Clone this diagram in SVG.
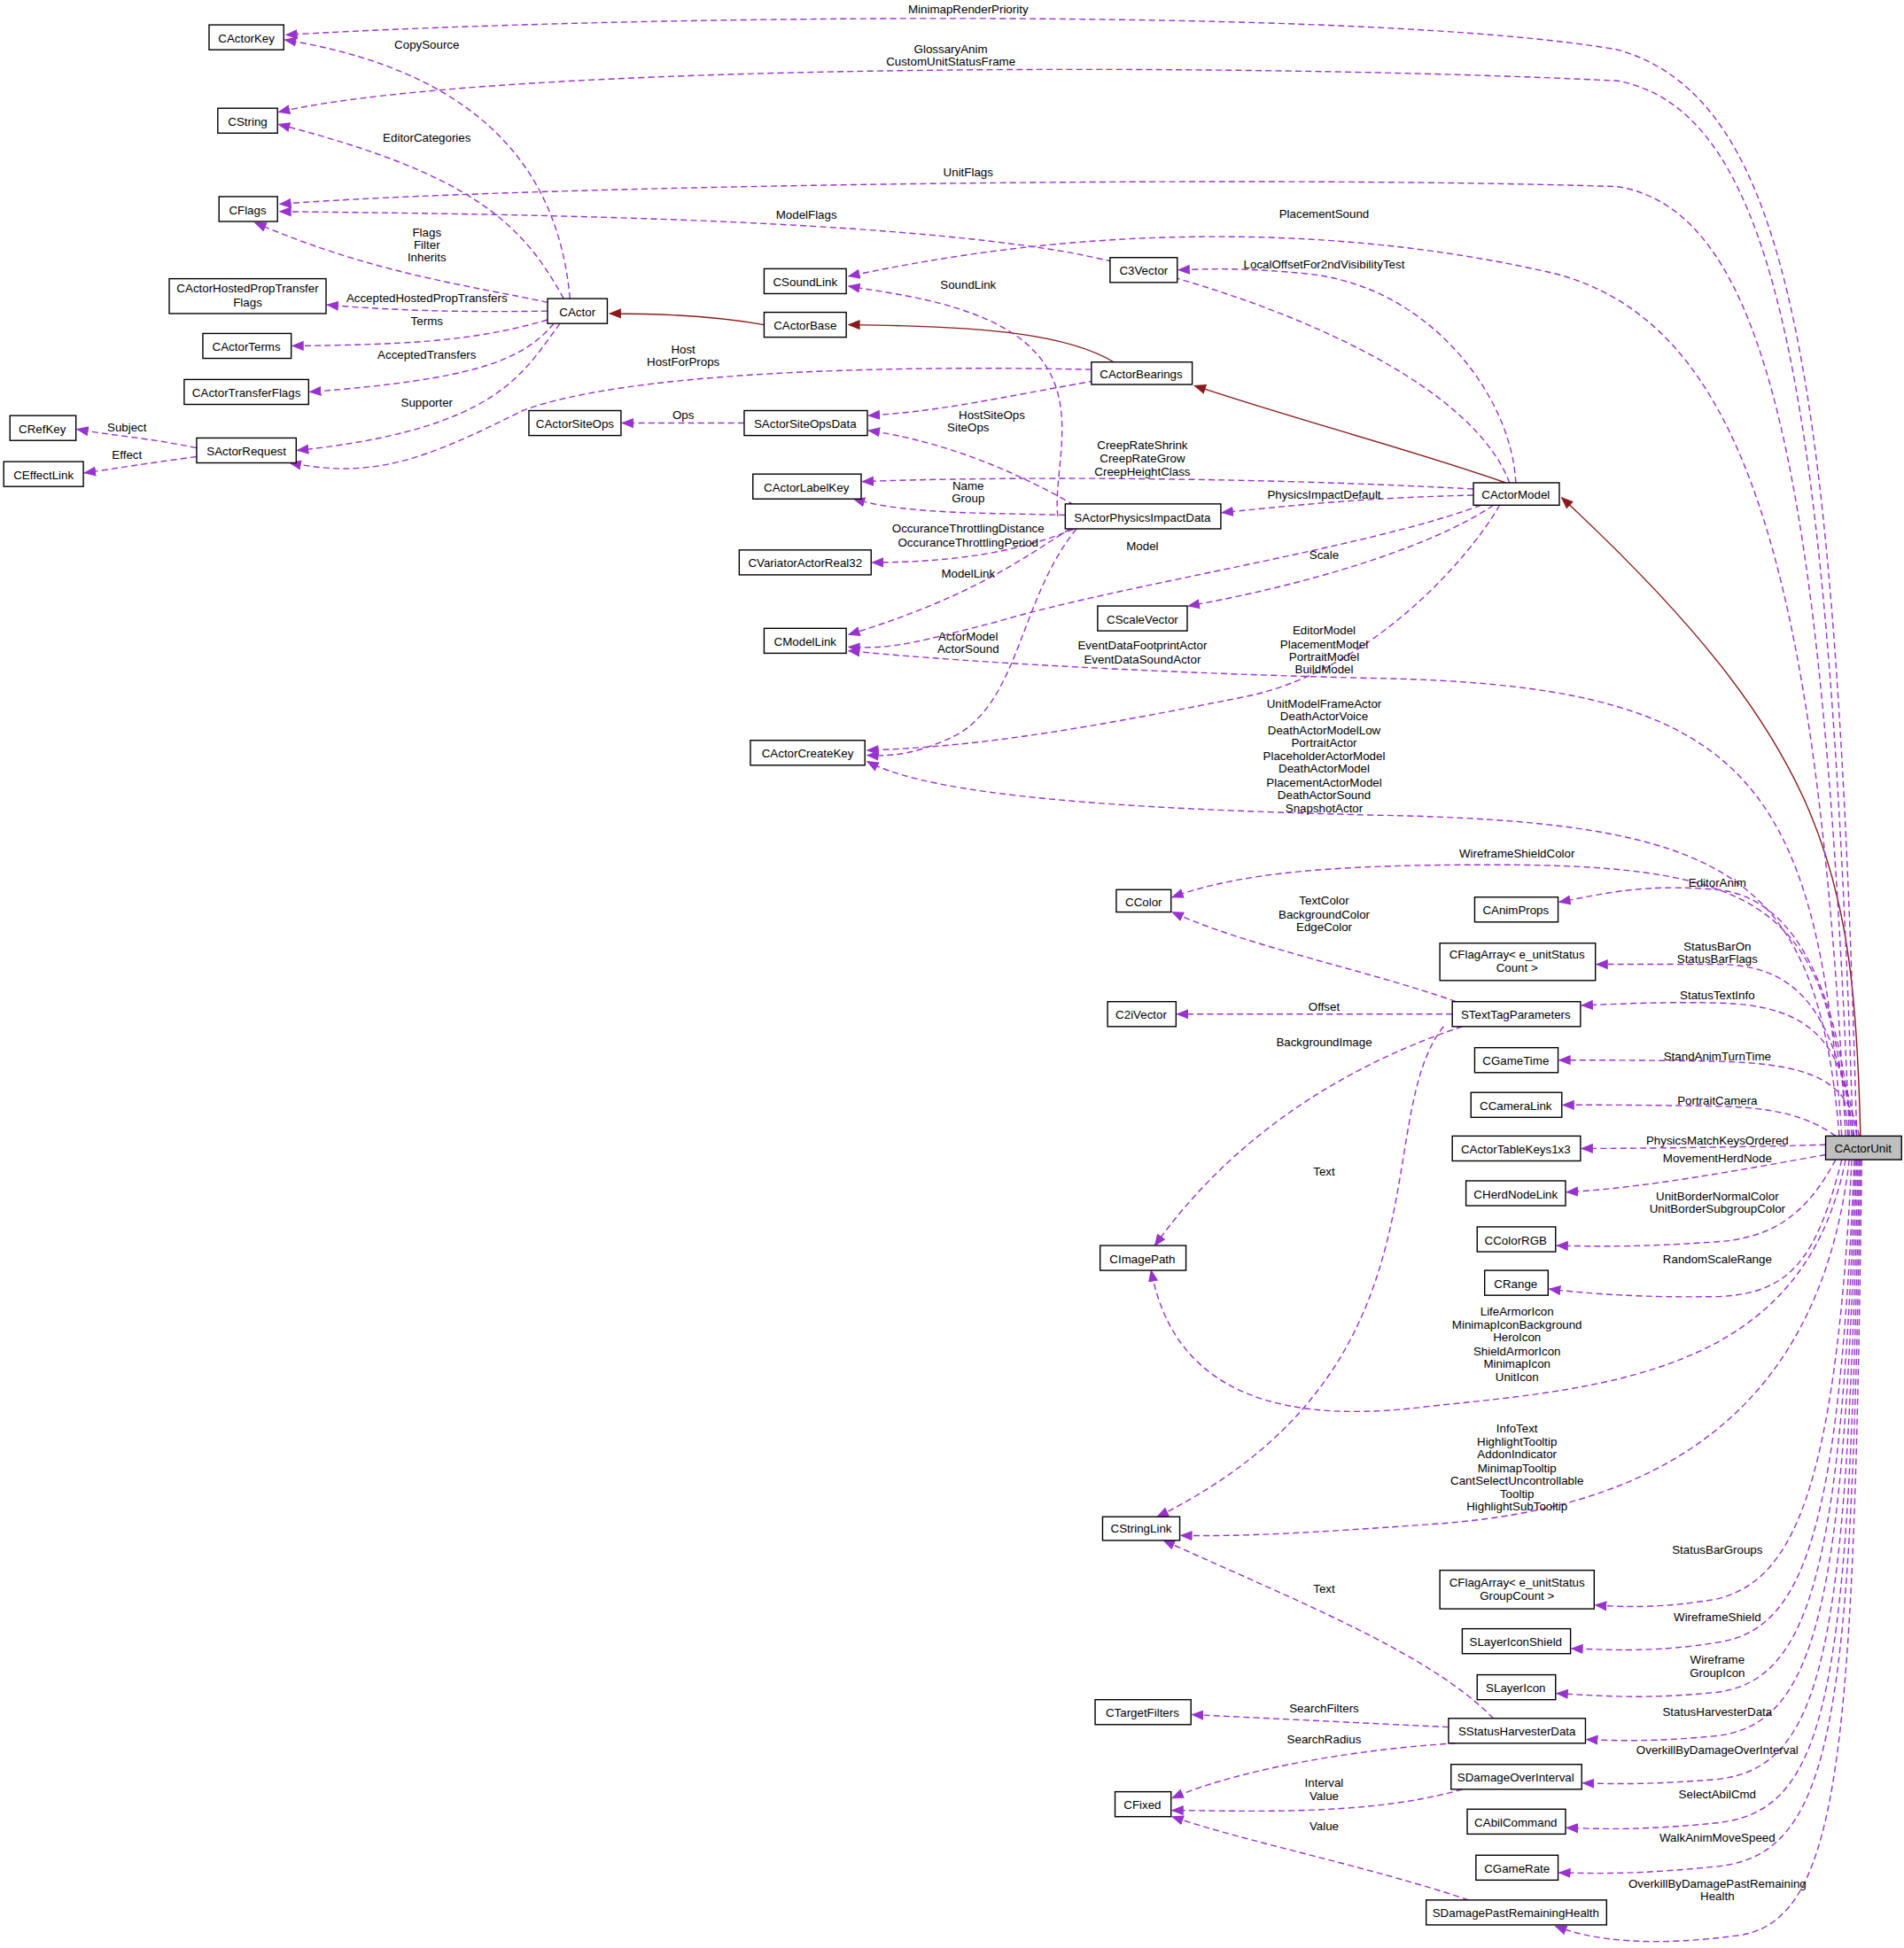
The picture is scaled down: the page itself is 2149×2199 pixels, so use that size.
<svg xmlns="http://www.w3.org/2000/svg" width="2149" height="2199" viewBox="0 0 2149 2199">
<defs>
<marker id="a" viewBox="0 0 10 10" refX="9" refY="5" markerWidth="10" markerHeight="10" markerUnits="userSpaceOnUse" orient="auto"><path d="M0,1 L10,5 L0,9 z" fill="#9a32cd"/></marker>
<marker id="r" viewBox="0 0 10 10" refX="9" refY="5" markerWidth="10" markerHeight="10" markerUnits="userSpaceOnUse" orient="auto"><path d="M0,1 L10,5 L0,9 z" fill="#8b1a1a"/></marker>
<style>
text{font-family:"Liberation Sans",Arial,sans-serif;font-size:9.5px;fill:#000;text-anchor:middle}
.n rect{fill:#fff;stroke:#000;stroke-width:1}
#CActorUnit rect{fill:#bfbfbf}
.e path{fill:none;stroke:#9a32cd;stroke-width:1;stroke-dasharray:5,3;marker-end:url(#a)}
.e path.i{stroke:#8b1a1a;stroke-dasharray:none;marker-end:url(#r)}
</style>
</defs>
<rect width="2149" height="2199" fill="#fff"/>
<g transform="scale(1.4046)">
<g class="e" id="edges">
<path class="i" d="M1495,913 C1490,700 1470,600 1255,400"/>
<path class="i" d="M1210,388 C1130,360 1050,340 960,310"/>
<path class="i" d="M895,291 C860,270 800,262 682,261"/>
<path class="i" d="M614,261 C580,255 540,252 490,252"/>
<path d="M1492,913 C1475,300 1440,80 1300,40 C1100,5 500,12 230,28"/>
<path d="M1489,913 C1470,320 1430,90 1300,65 C1000,50 400,50 224,90"/>
<path d="M1486,913 C1465,380 1420,170 1300,150 C1000,140 400,150 225,164"/>
<path d="M1483,913 C1460,450 1400,260 1250,220 C1100,185 900,175 682,222"/>
<path d="M1213,388 C1180,300 1000,230 860,203 C700,175 400,172 225,170"/>
<path d="M1218,388 C1215,320 1150,230 1050,220 C1000,215 970,216 947,217"/>
<path d="M877,297 C700,293 500,300 420,330 C340,370 300,385 233,372"/>
<path d="M880,306 C800,320 760,330 698,334"/>
<path d="M598,340 C560,340 530,340 500,340"/>
<path d="M870,410 C820,380 760,355 698,346"/>
<path d="M850,415 C845,370 880,300 800,260 C760,240 710,235 682,230"/>
<path d="M1184,393 C1000,383 800,383 693,387"/>
<path d="M856,414 C800,412 730,414 686,401"/>
<path d="M1184,398 C1100,400 1050,405 982,412"/>
<path d="M870,422 C820,445 760,452 701,452"/>
<path d="M860,425 C820,450 780,480 682,510"/>
<path d="M1190,406 C1100,440 900,470 800,500 C740,515 720,522 682,520"/>
<path d="M1200,406 C1150,440 1050,470 955,487"/>
<path d="M1205,406 C1180,450 1100,540 1000,560 C850,590 780,600 697,603"/>
<path d="M865,425 C820,480 820,560 770,590 C740,605 720,608 697,607"/>
<path d="M1480,913 C1460,620 1400,550 1100,545 C900,540 750,530 682,523"/>
<path d="M1478,913 C1460,700 1390,660 1100,655 C900,650 750,640 697,612"/>
<path d="M1485,913 C1470,730 1420,695 1200,695 C1080,695 1000,700 942,721"/>
<path d="M1488,913 C1475,770 1430,720 1380,715 C1320,710 1290,718 1253,725"/>
<path d="M1490,913 C1475,820 1450,775 1380,775 C1330,775 1310,775 1283,775"/>
<path d="M1492,913 C1480,840 1460,808 1380,806 C1330,805 1300,807 1271,808"/>
<path d="M1170,805 C1100,780 1000,760 942,733"/>
<path d="M1167,815 C1100,815 1000,815 946,815"/>
<path d="M1175,825 C1100,850 1000,900 928,1001"/>
<path d="M1160,825 C1100,900 1170,1100 930,1219"/>
<path d="M1494,913 C1485,870 1460,855 1380,853 C1320,852 1290,852 1253,852"/>
<path d="M1475,913 C1450,895 1420,890 1380,889 C1320,888 1290,888 1256,888"/>
<path d="M1467,920 C1400,922 1320,923 1271,923"/>
<path d="M1467,928 C1400,940 1320,955 1259,958"/>
<path d="M1475,932 C1450,980 1420,995 1380,998 C1320,1002 1290,1002 1251,1001"/>
<path d="M1480,932 C1460,1010 1440,1040 1380,1042 C1320,1043 1280,1040 1245,1036"/>
<path d="M1483,932 C1450,1100 1300,1115 1150,1130 C1000,1150 940,1100 925,1021"/>
<path d="M1486,932 C1460,1160 1300,1215 1150,1225 C1050,1232 1000,1235 949,1234"/>
<path d="M1488,932 C1475,1200 1440,1270 1380,1285 C1340,1292 1310,1292 1282,1290"/>
<path d="M1490,932 C1478,1230 1450,1310 1380,1320 C1330,1328 1300,1326 1263,1325"/>
<path d="M1491,932 C1480,1260 1455,1350 1380,1360 C1320,1366 1290,1363 1251,1361"/>
<path d="M1492,932 C1482,1290 1460,1385 1380,1395 C1330,1400 1300,1399 1275,1398"/>
<path d="M1493,932 C1484,1330 1465,1420 1380,1430 C1330,1434 1300,1434 1272,1433"/>
<path d="M1494,932 C1486,1360 1470,1455 1380,1465 C1320,1471 1290,1470 1259,1469"/>
<path d="M1495,932 C1488,1380 1475,1490 1380,1500 C1320,1506 1290,1506 1253,1505"/>
<path d="M1496,932 C1490,1400 1480,1540 1400,1555 C1330,1565 1280,1560 1250,1548"/>
<path d="M1200,1381 C1150,1330 1050,1290 935,1238"/>
<path d="M1164,1388 C1100,1385 1000,1380 958,1378"/>
<path d="M1170,1401 C1100,1405 1000,1420 942,1445"/>
<path d="M1175,1438 C1100,1460 1000,1455 942,1455"/>
<path d="M1180,1527 C1100,1500 1000,1480 942,1460"/>
<path d="M458,240 C450,150 400,60 229,32"/>
<path d="M453,240 C420,180 380,140 224,100"/>
<path d="M440,243 C380,230 300,220 205,179"/>
<path d="M440,250 C380,251 320,250 263,245"/>
<path d="M440,257 C380,275 320,277 235,278"/>
<path d="M445,260 C420,290 380,305 249,315"/>
<path d="M450,260 C420,300 400,345 239,362"/>
<path d="M158,360 C120,352 90,350 62,345"/>
<path d="M158,367 C120,372 90,377 68,380"/>
</g>
<g class="n" id="CActorKey"><rect x="168" y="20" width="60" height="20"/><text x="198" y="34">CActorKey</text></g>
<g class="n" id="CString"><rect x="175" y="87" width="48" height="20"/><text x="199" y="101">CString</text></g>
<g class="n" id="CFlags"><rect x="176" y="158" width="47" height="20"/><text x="199" y="172">CFlags</text></g>
<g class="n" id="CActorHostedPropTransferFlags"><rect x="136" y="224" width="126" height="28"/><text x="199" y="235">CActorHostedPropTransfer</text><text x="199" y="246">Flags</text></g>
<g class="n" id="CActorTerms"><rect x="163" y="268" width="71" height="20"/><text x="198" y="282">CActorTerms</text></g>
<g class="n" id="CActorTransferFlags"><rect x="148" y="305" width="100" height="20"/><text x="198" y="319">CActorTransferFlags</text></g>
<g class="n" id="CRefKey"><rect x="8" y="334" width="53" height="20"/><text x="34" y="348">CRefKey</text></g>
<g class="n" id="CEffectLink"><rect x="3" y="371" width="64" height="20"/><text x="35" y="385">CEffectLink</text></g>
<g class="n" id="SActorRequest"><rect x="158" y="352" width="80" height="20"/><text x="198" y="366">SActorRequest</text></g>
<g class="n" id="CActor"><rect x="440" y="240" width="48" height="20"/><text x="464" y="254">CActor</text></g>
<g class="n" id="CActorBase"><rect x="614" y="251" width="66" height="20"/><text x="647" y="265">CActorBase</text></g>
<g class="n" id="CSoundLink"><rect x="614" y="216" width="66" height="20"/><text x="647" y="230">CSoundLink</text></g>
<g class="n" id="C3Vector"><rect x="892" y="207" width="54" height="20"/><text x="919" y="221">C3Vector</text></g>
<g class="n" id="CActorBearings"><rect x="877" y="291" width="81" height="18"/><text x="917" y="304">CActorBearings</text></g>
<g class="n" id="CActorSiteOps"><rect x="425" y="330" width="74" height="20"/><text x="462" y="344">CActorSiteOps</text></g>
<g class="n" id="SActorSiteOpsData"><rect x="598" y="330" width="99" height="20"/><text x="647" y="344">SActorSiteOpsData</text></g>
<g class="n" id="CActorLabelKey"><rect x="605" y="381" width="87" height="20"/><text x="648" y="395">CActorLabelKey</text></g>
<g class="n" id="SActorPhysicsImpactData"><rect x="856" y="405" width="125" height="20"/><text x="918" y="419">SActorPhysicsImpactData</text></g>
<g class="n" id="CActorModel"><rect x="1184" y="388" width="69" height="18"/><text x="1218" y="401">CActorModel</text></g>
<g class="n" id="CVariatorActorReal32"><rect x="594" y="442" width="106" height="20"/><text x="647" y="456">CVariatorActorReal32</text></g>
<g class="n" id="CScaleVector"><rect x="882" y="487" width="72" height="20"/><text x="918" y="501">CScaleVector</text></g>
<g class="n" id="CModelLink"><rect x="614" y="505" width="66" height="20"/><text x="647" y="519">CModelLink</text></g>
<g class="n" id="CActorCreateKey"><rect x="603" y="595" width="92" height="20"/><text x="649" y="609">CActorCreateKey</text></g>
<g class="n" id="CColor"><rect x="897" y="715" width="44" height="18"/><text x="919" y="728">CColor</text></g>
<g class="n" id="CAnimProps"><rect x="1185" y="721" width="67" height="20"/><text x="1218" y="735">CAnimProps</text></g>
<g class="n" id="CFlagArrayCount"><rect x="1157" y="758" width="125" height="30"/><text x="1219" y="770">CFlagArray&lt; e_unitStatus</text><text x="1219" y="781">Count &gt;</text></g>
<g class="n" id="C2iVector"><rect x="890" y="805" width="55" height="20"/><text x="917" y="819">C2iVector</text></g>
<g class="n" id="STextTagParameters"><rect x="1167" y="805" width="103" height="20"/><text x="1218" y="819">STextTagParameters</text></g>
<g class="n" id="CGameTime"><rect x="1185" y="842" width="67" height="20"/><text x="1218" y="856">CGameTime</text></g>
<g class="n" id="CCameraLink"><rect x="1182" y="878" width="73" height="20"/><text x="1218" y="892">CCameraLink</text></g>
<g class="n" id="CActorTableKeys1x3"><rect x="1167" y="913" width="103" height="20"/><text x="1218" y="927">CActorTableKeys1x3</text></g>
<g class="n" id="CActorUnit"><rect x="1467" y="913" width="61" height="19"/><text x="1497" y="926">CActorUnit</text></g>
<g class="n" id="CHerdNodeLink"><rect x="1178" y="949" width="80" height="20"/><text x="1218" y="963">CHerdNodeLink</text></g>
<g class="n" id="CColorRGB"><rect x="1187" y="986" width="63" height="20"/><text x="1218" y="1000">CColorRGB</text></g>
<g class="n" id="CRange"><rect x="1193" y="1021" width="51" height="20"/><text x="1218" y="1035">CRange</text></g>
<g class="n" id="CImagePath"><rect x="884" y="1001" width="69" height="20"/><text x="918" y="1015">CImagePath</text></g>
<g class="n" id="CStringLink"><rect x="886" y="1219" width="62" height="19"/><text x="917" y="1232">CStringLink</text></g>
<g class="n" id="CFlagArrayGroupCount"><rect x="1157" y="1262" width="124" height="31"/><text x="1219" y="1275">CFlagArray&lt; e_unitStatus</text><text x="1219" y="1286">GroupCount &gt;</text></g>
<g class="n" id="SLayerIconShield"><rect x="1175" y="1309" width="87" height="20"/><text x="1218" y="1323">SLayerIconShield</text></g>
<g class="n" id="SLayerIcon"><rect x="1187" y="1346" width="63" height="20"/><text x="1218" y="1360">SLayerIcon</text></g>
<g class="n" id="CTargetFilters"><rect x="880" y="1366" width="77" height="20"/><text x="918" y="1380">CTargetFilters</text></g>
<g class="n" id="SStatusHarvesterData"><rect x="1164" y="1381" width="110" height="20"/><text x="1219" y="1395">SStatusHarvesterData</text></g>
<g class="n" id="SDamageOverInterval"><rect x="1166" y="1418" width="105" height="20"/><text x="1218" y="1432">SDamageOverInterval</text></g>
<g class="n" id="CFixed"><rect x="896" y="1440" width="45" height="20"/><text x="918" y="1454">CFixed</text></g>
<g class="n" id="CAbilCommand"><rect x="1179" y="1454" width="79" height="20"/><text x="1218" y="1468">CAbilCommand</text></g>
<g class="n" id="CGameRate"><rect x="1186" y="1491" width="66" height="20"/><text x="1219" y="1505">CGameRate</text></g>
<g class="n" id="SDamagePastRemainingHealth"><rect x="1146" y="1527" width="145" height="20"/><text x="1218" y="1541">SDamagePastRemainingHealth</text></g>
<g id="labels">
<text x="778" y="11">MinimapRenderPriority</text>
<text x="764" y="43">GlossaryAnim</text><text x="764" y="53">CustomUnitStatusFrame</text>
<text x="778" y="142">UnitFlags</text>
<text x="1064" y="175">PlacementSound</text>
<text x="648" y="176">ModelFlags</text>
<text x="1064" y="216">LocalOffsetFor2ndVisibilityTest</text>
<text x="778" y="232">SoundLink</text>
<text x="549" y="284">Host</text><text x="549" y="294">HostForProps</text>
<text x="797" y="337">HostSiteOps</text>
<text x="549" y="337">Ops</text>
<text x="778" y="347">SiteOps</text>
<text x="918" y="361">CreepRateShrink</text><text x="918" y="372">CreepRateGrow</text><text x="918" y="382">CreepHeightClass</text>
<text x="778" y="394">Name</text><text x="778" y="404">Group</text>
<text x="1064" y="401">PhysicsImpactDefault</text>
<text x="778" y="428">OccuranceThrottlingDistance</text><text x="778" y="439">OccuranceThrottlingPeriod</text>
<text x="918" y="442">Model</text>
<text x="1064" y="449">Scale</text>
<text x="778" y="464">ModelLink</text>
<text x="778" y="515">ActorModel</text><text x="778" y="525">ActorSound</text>
<text x="918" y="522">EventDataFootprintActor</text><text x="918" y="533">EventDataSoundActor</text>
<text x="1064" y="510">EditorModel</text><text x="1064" y="521">PlacementModel</text><text x="1064" y="531">PortraitModel</text><text x="1064" y="541">BuildModel</text>
<text x="1064" y="569">UnitModelFrameActor</text><text x="1064" y="579">DeathActorVoice</text><text x="1064" y="590">DeathActorModelLow</text><text x="1064" y="600">PortraitActor</text><text x="1064" y="611">PlaceholderActorModel</text><text x="1064" y="621">DeathActorModel</text><text x="1064" y="632">PlacementActorModel</text><text x="1064" y="642">DeathActorSound</text><text x="1064" y="653">SnapshotActor</text>
<text x="1219" y="689">WireframeShieldColor</text>
<text x="1380" y="713">EditorAnim</text>
<text x="1064" y="727">TextColor</text><text x="1064" y="738">BackgroundColor</text><text x="1064" y="748">EdgeColor</text>
<text x="1380" y="764">StatusBarOn</text><text x="1380" y="774">StatusBarFlags</text>
<text x="1380" y="803">StatusTextInfo</text>
<text x="1064" y="812">Offset</text>
<text x="1064" y="841">BackgroundImage</text>
<text x="1380" y="852">StandAnimTurnTime</text>
<text x="1380" y="888">PortraitCamera</text>
<text x="1380" y="920">PhysicsMatchKeysOrdered</text>
<text x="1380" y="934">MovementHerdNode</text>
<text x="1064" y="945">Text</text>
<text x="1380" y="965">UnitBorderNormalColor</text><text x="1380" y="975">UnitBorderSubgroupColor</text>
<text x="1380" y="1015">RandomScaleRange</text>
<text x="1219" y="1057">LifeArmorIcon</text><text x="1219" y="1068">MinimapIconBackground</text><text x="1219" y="1078">HeroIcon</text><text x="1219" y="1089">ShieldArmorIcon</text><text x="1219" y="1099">MinimapIcon</text><text x="1219" y="1110">UnitIcon</text>
<text x="1219" y="1151">InfoText</text><text x="1219" y="1162">HighlightTooltip</text><text x="1219" y="1172">AddonIndicator</text><text x="1219" y="1183">MinimapTooltip</text><text x="1219" y="1193">CantSelectUncontrollable</text><text x="1219" y="1204">Tooltip</text><text x="1219" y="1214">HighlightSubTooltip</text>
<text x="1380" y="1249">StatusBarGroups</text>
<text x="1064" y="1280">Text</text>
<text x="1380" y="1303">WireframeShield</text>
<text x="1380" y="1337">Wireframe</text><text x="1380" y="1348">GroupIcon</text>
<text x="1064" y="1376">SearchFilters</text>
<text x="1380" y="1379">StatusHarvesterData</text>
<text x="1064" y="1401">SearchRadius</text>
<text x="1380" y="1410">OverkillByDamageOverInterval</text>
<text x="1064" y="1436">Interval</text><text x="1064" y="1447">Value</text>
<text x="1380" y="1445">SelectAbilCmd</text>
<text x="1064" y="1471">Value</text>
<text x="1380" y="1480">WalkAnimMoveSpeed</text>
<text x="1380" y="1517">OverkillByDamagePastRemaining</text><text x="1380" y="1527">Health</text>
<text x="343" y="39">CopySource</text>
<text x="343" y="114">EditorCategories</text>
<text x="343" y="190">Flags</text><text x="343" y="200">Filter</text><text x="343" y="210">Inherits</text>
<text x="343" y="243">AcceptedHostedPropTransfers</text>
<text x="343" y="261">Terms</text>
<text x="343" y="288">AcceptedTransfers</text>
<text x="343" y="327">Supporter</text>
<text x="102" y="347">Subject</text>
<text x="102" y="369">Effect</text>
</g>
</g>
</svg>
